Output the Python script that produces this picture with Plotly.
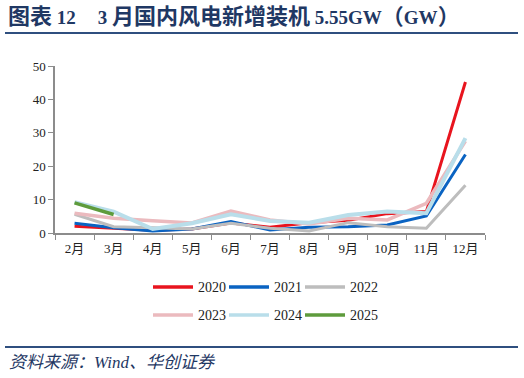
import plotly.graph_objects as go

months = ["2月", "3月", "4月", "5月", "6月", "7月", "8月", "9月", "10月", "11月", "12月"]
years = ["2020", "2021", "2022", "2023", "2024", "2025"]
v2020 = [2.0, 1.5, 0.8, 1.2, 3.0, 1.7, 3.1, 3.8, 5.8, 6.4, 45.2]
v2021 = [2.9, 1.6, 0.6, 1.2, 3.4, 0.9, 1.7, 1.9, 2.4, 5.1, 23.5]
v2022 = [5.6, 1.9, 1.6, 1.2, 2.9, 1.4, 0.6, 3.1, 1.9, 1.4, 14.3]
v2023 = [5.9, 4.4, 3.7, 3.0, 6.6, 3.9, 2.7, 4.4, 3.9, 8.9, 27.5]
v2024 = [9.2, 6.4, 1.2, 2.9, 5.6, 3.6, 3.1, 5.4, 6.4, 5.9, 28.4]
v2025 = [9.0, 5.55]
series = [v2020, v2021, v2022, v2023, v2024, v2025]
colors = ["#E8141E", "#0A63C2", "#BDBDBD", "#EBBABE", "#B9DEEA", "#5E9B3C"]
widths = [3, 3, 3, 3.5, 4, 3.5]
# title pieces: (text, is_cjk)
title_parts = [("图表", True), (" 12", False), ("　", True), ("3 ", False), ("月国内风电新增装机", True),
               (" 5.55GW", False), ("（", True), ("GW", False), ("）", True)]
source_text = "资料来源：Wind、华创证券"

W, H = 524, 378
L, R, T, B = 55, 485, 66, 233


def px(x):
    return (x - L) / (R - L)


def py(y):
    return (B - y) / (B - T)


fig = go.Figure()
for name, vals, c, w in zip(years, series, colors, widths):
    fig.add_trace(go.Scatter(x=months[:len(vals)], y=vals, mode="lines", name=name,
                             line=dict(color=c, width=w), showlegend=False))

shapes = []
annotations = []
# legend (manual)
for i, (name, c, w) in enumerate(zip(years, colors, widths)):
    row, col = divmod(i, 3)
    x0 = 153 + col * 76
    yy = 287 + row * 28
    shapes.append(dict(type="line", xref="paper", yref="paper", x0=px(x0), x1=px(x0 + 40),
                       y0=py(yy), y1=py(yy), line=dict(color=c, width=3.5)))
    annotations.append(dict(xref="paper", yref="paper", x=px(x0 + 43), y=py(yy), text=name,
                            showarrow=False, xanchor="left", yanchor="middle",
                            font=dict(family="Liberation Serif", size=14, color="#222")))

# rules
for yy in (33, 347):
    shapes.append(dict(type="line", xref="paper", yref="paper", x0=px(5), x1=px(518),
                       y0=py(yy), y1=py(yy), line=dict(color="#2F4F7F", width=2)))

title_html = "".join(
    "<span style='font-size:%dpx'>%s</span>" % (22 if cjk else 19, t) for t, cjk in title_parts)
annotations.append(dict(xref="paper", yref="paper", x=px(6), y=py(16), text="<b>" + title_html + "</b>",
                        showarrow=False, xanchor="left", yanchor="middle",
                        font=dict(family="Liberation Serif, Noto Sans CJK SC", size=19, color="#1F3864")))
annotations.append(dict(xref="paper", yref="paper", x=px(7), y=py(362), text="<i>" + source_text + "</i>",
                        showarrow=False, xanchor="left", yanchor="middle",
                        font=dict(family="Liberation Serif, Noto Sans CJK SC", size=17, color="#1F3864")))

fig.update_layout(
    width=W, height=H,
    margin=dict(l=L, r=W - R, t=T, b=H - B),
    paper_bgcolor="white", plot_bgcolor="white",
    shapes=shapes, annotations=annotations,
    font=dict(family="Liberation Serif, Noto Sans CJK SC", size=13, color="#222"),
)
fig.update_xaxes(type="category", categoryorder="array", categoryarray=months,
                 range=[-0.5, 10.5], showgrid=False, showline=True, linecolor="#8C8C8C", linewidth=1.5,
                 ticks="outside", tickson="boundaries", ticklen=5, tickcolor="#8C8C8C",
                 ticklabelstandoff=3,
                 tickfont=dict(family="Liberation Serif, Noto Sans CJK SC", size=13, color="#222"))
fig.update_yaxes(range=[0, 50], dtick=10, showgrid=False, showline=True, linecolor="#8C8C8C",
                 linewidth=1.5, ticks="outside", ticklen=5, tickcolor="#8C8C8C", zeroline=False,
                 tickfont=dict(family="Liberation Serif", size=13, color="#222"))

fig.write_html("out.html", config={"displayModeBar": False},
               post_script="document.body.style.margin='0';document.body.style.padding='0';")
